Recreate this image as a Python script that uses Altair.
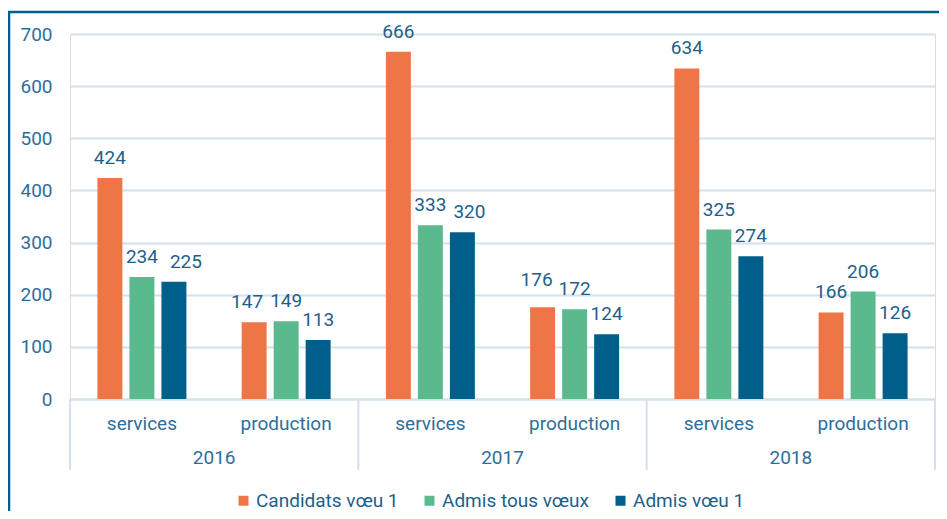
import altair as alt
import pandas as pd

years = ["2016", "2017", "2018"]
categories = ["services", "production"]
series = ["Candidats vœu 1", "Admis tous vœux", "Admis vœu 1"]
candidats = [424, 147, 666, 176, 634, 166]
admis_tous = [234, 149, 333, 172, 325, 206]
admis_v1 = [225, 113, 320, 124, 274, 126]
colors = ["#EE7545", "#5BB98E", "#005F8A"]

keys = [f"{y}|{c}" for y in years for c in categories]
rows = []
for s, vals in zip(series, [candidats, admis_tous, admis_v1]):
    for k, v in zip(keys, vals):
        rows.append({"key": k, "serie": s, "value": v})
df = pd.DataFrame(rows)

# manual label placement (like the hand-moved labels of the original)
label_nudges = {
    ("2016|services", "Admis vœu 1"): (12, -14),
    ("2016|production", "Candidats vœu 1"): (-7, -14),
    ("2017|services", "Admis vœu 1"): (7, -14),
    ("2017|production", "Candidats vœu 1"): (-6, -21),
}

year_df = pd.DataFrame({"year": years, "pos": [0.5, 1.5, 2.5]})
div_df = pd.DataFrame({"pos": [0, 1, 2, 3]})
one = pd.DataFrame({"a": [0]})

TXT = "#1E5F8C"
AX = "#2F6E99"
GRID = "#D3E1EC"
FONT = "Roboto"

xenc = alt.X("key:N", sort=keys, title=None,
             scale=alt.Scale(paddingInner=0.383, paddingOuter=0.19),
             axis=alt.Axis(labelExpr="split(datum.label, '|')[1]", labelAngle=0,
                           ticks=False, domainColor=GRID, domainWidth=2,
                           labelFontSize=19, labelColor=AX, labelFont=FONT,
                           labelPadding=15))
xoff = alt.XOffset("serie:N", sort=series, scale=alt.Scale(paddingInner=0.22))
yenc = alt.Y("value:Q", title=None,
             scale=alt.Scale(domain=[0, 700]),
             axis=alt.Axis(values=list(range(0, 701, 100)), domain=False, ticks=False,
                           gridColor=GRID, gridWidth=2, labelFontSize=19,
                           labelColor=AX, labelFont=FONT, labelPadding=18))

bars = alt.Chart(df).mark_bar().encode(
    x=xenc, xOffset=xoff, y=yenc,
    color=alt.Color("serie:N", sort=series,
                    scale=alt.Scale(domain=series, range=colors),
                    legend=alt.Legend(title=None, orient="none", direction="horizontal",
                                      legendX=164, legendY=457, symbolType="square",
                                      symbolSize=100, symbolStrokeWidth=0, padding=0,
                                      labelFontSize=19, labelColor=TXT, labelFont=FONT,
                                      columnPadding=21, labelOffset=3)),
)

mask = df.apply(lambda r: (r["key"], r["serie"]) in label_nudges, axis=1)


def label_layer(data, dx, dy):
    return alt.Chart(data).mark_text(fontSize=19, font=FONT, color=TXT, dx=dx, dy=dy,
                                     baseline="alphabetic").encode(
        x=alt.X("key:N", sort=keys), xOffset=alt.XOffset("serie:N", sort=series),
        y="value:Q", text="value:Q",
    )


label_layers = [label_layer(df[~mask], 0, -14)]
for (k, s), (dx, dy) in label_nudges.items():
    sub = df[(df["key"] == k) & (df["serie"] == s)]
    label_layers.append(label_layer(sub, dx, dy))

base = alt.layer(bars, *label_layers)

qx = alt.X("pos:Q", scale=alt.Scale(domain=[0, 3]), axis=None)
year_txt = alt.Chart(year_df).mark_text(fontSize=19, font=FONT, color=AX,
                                        baseline="middle").encode(
    x=qx, y=alt.value(424), text="year:N")
dividers = alt.Chart(div_df).mark_rule(color=GRID, strokeWidth=2).encode(
    x=qx, y=alt.value(365), y2=alt.value(436))

border_left = alt.Chart(one).mark_rule(color="#005F8A", strokeWidth=2.5).encode(
    x=alt.value(-61), y=alt.value(-22), y2=alt.value(490))
border_top = alt.Chart(one).mark_rule(color="#005F8A", strokeWidth=2.5).encode(
    x=alt.value(-62), x2=alt.value(900), y=alt.value(-22))

chart = alt.layer(base, year_txt, dividers, border_left, border_top).resolve_scale(
    x="independent"
).properties(
    width=865, height=365,
    autosize=alt.AutoSizeParams(type="none"),
    padding={"left": 62, "top": 26, "right": 4, "bottom": 112},
).configure_view(stroke=None).configure(background="white")

chart.save("out.html", embed_options={"renderer": "svg", "actions": False})
